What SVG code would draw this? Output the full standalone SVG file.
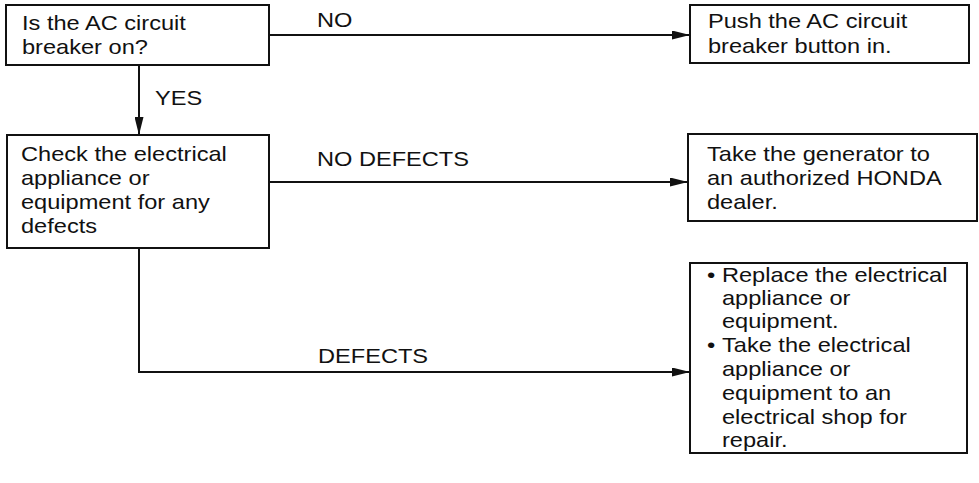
<svg xmlns="http://www.w3.org/2000/svg" width="979" height="483" viewBox="0 0 979 483">
<style>
rect.box{fill:#fff;stroke:#111;stroke-width:2}
.conn line,.conn polyline{fill:none;stroke:#111;stroke-width:2}
text{font-family:"Liberation Sans",Arial,sans-serif;font-size:20px;fill:#111}
</style>
<defs>
<marker id="arr" markerUnits="userSpaceOnUse" markerWidth="18" markerHeight="9" refX="18" refY="4.5" orient="auto">
<path d="M0,0 L18,4.5 L0,9 Z" fill="#111"/>
</marker>
</defs>
<rect width="979" height="483" fill="#fff"/>
<g class="conn" id="connectors">
<line x1="269" y1="35" x2="690" y2="35" marker-end="url(#arr)"/>
<line x1="139" y1="65" x2="139" y2="135" marker-end="url(#arr)"/>
<line x1="269" y1="182" x2="688" y2="182" marker-end="url(#arr)"/>
<polyline points="139,248 139,372 690,372" marker-end="url(#arr)"/>
<text transform="translate(317,0) scale(1.18 1)" y="27">NO</text>
<text transform="translate(155,0) scale(1.18 1)" y="105">YES</text>
<text transform="translate(317,0) scale(1.18 1)" y="166">NO DEFECTS</text>
<text transform="translate(318,0) scale(1.18 1)" y="363">DEFECTS</text>
</g>
<g id="n1">
<rect class="box" x="6" y="5" width="263" height="60"/>
<text transform="translate(22,0) scale(1.18 1)"><tspan x="0" y="30">Is the AC circuit</tspan><tspan x="0" y="54">breaker on?</tspan></text>
</g>
<g id="n2">
<rect class="box" x="690" y="5" width="279" height="58"/>
<text transform="translate(708,0) scale(1.18 1)"><tspan x="0" y="28">Push the AC circuit</tspan><tspan x="0" y="53">breaker button in.</tspan></text>
</g>
<g id="n3">
<rect class="box" x="7" y="135" width="262" height="113"/>
<text transform="translate(21,0) scale(1.18 1)"><tspan x="0" y="161">Check the electrical</tspan><tspan x="0" y="185">appliance or</tspan><tspan x="0" y="209">equipment for any</tspan><tspan x="0" y="233">defects</tspan></text>
</g>
<g id="n4">
<rect class="box" x="688" y="134" width="289" height="87"/>
<text transform="translate(707,0) scale(1.18 1)"><tspan x="0" y="161">Take the generator to</tspan><tspan x="0" y="185">an authorized HONDA</tspan><tspan x="0" y="209">dealer.</tspan></text>
</g>
<g id="n5">
<rect class="box" x="690" y="263" width="277" height="190"/>
<text transform="translate(707,0) scale(1.18 1)"><tspan x="0" y="282">•</tspan><tspan x="12.7" y="282">Replace the electrical</tspan><tspan x="12.7" y="305">appliance or</tspan><tspan x="12.7" y="328">equipment.</tspan><tspan x="0" y="352">•</tspan><tspan x="12.7" y="352">Take the electrical</tspan><tspan x="12.7" y="376">appliance or</tspan><tspan x="12.7" y="400">equipment to an</tspan><tspan x="12.7" y="424">electrical shop for</tspan><tspan x="12.7" y="447">repair.</tspan></text>
</g>
</svg>
